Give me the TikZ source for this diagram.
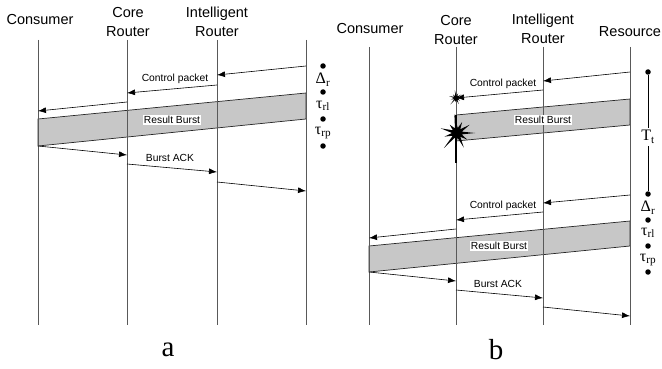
\documentclass[tikz,border=0pt]{standalone}
\usepackage{fontspec}
\setmainfont{Liberation Sans}
\newfontfamily\timesfont{Liberation Serif}
\usetikzlibrary{arrows.meta}

\tikzset{
  lifeline/.style={draw=black!65, line width=0.9pt},
  msg/.style={-{Latex[length=8pt,width=6pt]}, line width=0.6pt},
  burst/.style={draw=black!85, line width=0.7pt, fill=black!22},
  lbl/.style={font=\fontsize{10.3}{12}\selectfont, inner sep=1pt},
  head/.style={font=\fontsize{14.5}{18.5}\selectfont, align=center},
  dot/.style={circle, fill=black, inner sep=0pt, minimum size=5.5pt},
  greek/.style={font=\timesfont\fontsize{16}{17}\selectfont, inner sep=0pt},
  bang/.pic={
    \fill[black] (0:18) \foreach \a/\r in {16/5,33/12,49/5,65/16,82/5,98/10,115/5,131/20,
      147/5,164/13,180/5,196/17,213/5,229/11,246/5,262/19,278/5,295/12,311/5,327/15,344/5}
      { -- (\a:\r) } -- cycle;
  },
}

\begin{document}
\begin{tikzpicture}[x=1pt,y=-1pt]
  \useasboundingbox (0,0) rectangle (662,369);

  % --- a ---
  \coordinate (ac) at (38,40);
  \coordinate (ar) at (127,40);
  \coordinate (ai) at (217,40);
  \coordinate (as) at (306,40);
  \node[head] (acons) at (40,20) {Consumer};
  \node[head] (acore) at (128,22) {Core\\Router};
  \node[head] (aint) at (217,22) {Intelligent\\Router};

  \filldraw[burst] (ac |- 0,119) -- (as |- 0,93) -- (as |- 0,119) -- (ac |- 0,146) -- cycle;
  \foreach \p in {ac,ar,ai,as}
    \draw[lifeline] (\p) -- (\p |- 0,325);

  \draw[msg] (as |- 0,66) -- (ai |- 0,75);
  \draw[msg] (ai |- 0,85) -- (ar |- 0,93);
  \draw[msg] (ar |- 0,102) -- (ac |- 0,111);
  \node[lbl] (actl) at (175,79) {Control packet};
  \node[lbl, fill=white] (aburst) at (172,120) {Result Burst};
  \draw[msg] (ac |- 0,146) -- (ar |- 0,155);
  \draw[msg] (ar |- 0,164) -- (ai |- 0,172);
  \draw[msg] (ai |- 0,182) -- (as |- 0,191);
  \node[lbl] (aack) at (170,158) {Burst ACK};

  \node[dot] (ad1) at (323,66) {};
  \node[dot] (ad2) at (323,92) {};
  \node[dot] (ad3) at (323,119) {};
  \node[dot] (ad4) at (323,146) {};
  \node[greek] (adelta) at (323,80) {Δ\textsubscript{r}};
  \node[greek] (atrl) at (323,106) {τ\textsubscript{rl}};
  \node[greek] (atrp) at (323,133) {τ\textsubscript{rp}};
  \node[font=\timesfont\fontsize{29}{30}\selectfont] (acap) at (168,350) {a};

  % --- b ---
  \coordinate (bc) at (369,47);
  \coordinate (br) at (456,47);
  \coordinate (bi) at (543,47);
  \coordinate (bs) at (630,47);
  \node[head] (bcons) at (370,29) {Consumer};
  \node[head] (bcore) at (456,30) {Core\\Router};
  \node[head] (bint) at (543,29) {Intelligent\\Router};
  \node[head] (bres) at (630,32) {Resource};

  \filldraw[burst] (br |- 0,115) -- (bs |- 0,99) -- (bs |- 0,125) -- (br |- 0,141) -- cycle;
  \filldraw[burst] (bc |- 0,246) -- (bs |- 0,221) -- (bs |- 0,246) -- (bc |- 0,272) -- cycle;
  \foreach \p in {bc,br,bi,bs}
    \draw[lifeline] (\p) -- (\p |- 0,325);
  \draw[line width=1.2pt] (br |- 0,115) -- (br |- 0,163);

  % lost burst
  \draw[msg] (bs |- 0,72) -- (bi |- 0,81);
  \draw[msg] (bi |- 0,90) -- (br |- 0,98);
  \node[lbl] (bctl1) at (503,84) {Control packet};
  \node[lbl, fill=white] (bburst1) at (543,120) {Result Burst};
  \pic[scale=0.42] at (456,98) {bang};
  \pic at (457,133) {bang};

  % retransmission
  \draw[msg] (bs |- 0,195) -- (bi |- 0,203);
  \draw[msg] (bi |- 0,212) -- (br |- 0,220);
  \draw[msg] (br |- 0,229) -- (bc |- 0,238);
  \node[lbl] (bctl2) at (503,206) {Control packet};
  \node[lbl, fill=white] (bburst2) at (499,246) {Result Burst};
  \draw[msg] (bc |- 0,272) -- (br |- 0,281);
  \draw[msg] (br |- 0,290) -- (bi |- 0,298);
  \draw[msg] (bi |- 0,307) -- (bs |- 0,316);
  \node[lbl] (back) at (498,284) {Burst ACK};

  \node[dot] (bd0) at (648,72) {};
  \node[dot] (bd1) at (648,194) {};
  \node[dot] (bd2) at (648,220) {};
  \node[dot] (bd3) at (648,246) {};
  \node[dot] (bd4) at (648,272) {};
  \draw[line width=0.7pt] (bd0) -- (bd1);
  \node[greek, fill=white, inner sep=2pt] (btt) at (648,137) {T\textsubscript{t}};
  \node[greek] (bdelta) at (648,208) {Δ\textsubscript{r}};
  \node[greek] (btrl) at (648,233) {τ\textsubscript{rl}};
  \node[greek] (btrp) at (648,260) {τ\textsubscript{rp}};
  \node[font=\timesfont\fontsize{29}{30}\selectfont] (bcap) at (496,350) {b};
\end{tikzpicture}
\end{document}
